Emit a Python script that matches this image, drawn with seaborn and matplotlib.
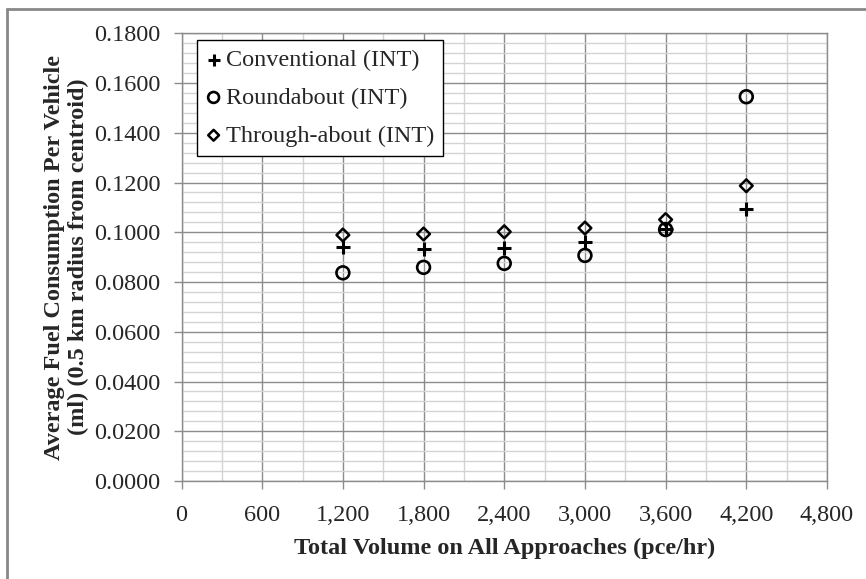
import seaborn as sns
import pandas as pd
import matplotlib.pyplot as plt
from matplotlib.lines import Line2D
from matplotlib.ticker import MultipleLocator, FuncFormatter

# total volume (pce/hr)
volume = [1200, 1800, 2400, 3000, 3600, 4200]
# average fuel consumption per vehicle (ml)
conventional = [0.0942, 0.0933, 0.0938, 0.0960, 0.1013, 0.1092]
roundabout = [0.0837, 0.0859, 0.0875, 0.0907, 0.1011, 0.1545]
throughabout = [0.0989, 0.0993, 0.1002, 0.1017, 0.1051, 0.1187]

df = pd.DataFrame({"volume": volume, "conv": conventional,
                   "round": roundabout, "thru": throughabout})

sns.set_style("white")
plt.rcParams['font.family'] = ['Liberation Serif', 'DejaVu Serif']

fig = plt.figure(figsize=(8.66, 5.79), dpi=100)
ax = fig.add_axes([181.5 / 866, 1 - 481 / 579, (827 - 181.5) / 866, (481 - 33.3) / 579])

sns.scatterplot(x="volume", y="conv", data=df, ax=ax, marker="+", color="black",
                s=90, linewidth=2.2, label="Conventional (INT)", zorder=3)
sns.scatterplot(x="volume", y="round", data=df, ax=ax, marker="o", color="black",
                facecolor="none", edgecolor="black", s=85, linewidth=1.9,
                label="Roundabout (INT)", zorder=3)
sns.scatterplot(x="volume", y="thru", data=df, ax=ax, marker="D", color="black",
                facecolor="none", edgecolor="black", s=42, linewidth=1.8,
                label="Through-about (INT)", zorder=3)

ax.set_xlim(0, 4800)
ax.set_ylim(0, 0.18)
ax.xaxis.set_major_locator(MultipleLocator(600))
ax.xaxis.set_minor_locator(MultipleLocator(300))
ax.yaxis.set_major_locator(MultipleLocator(0.02))
ax.yaxis.set_minor_locator(MultipleLocator(0.004))
ax.xaxis.set_major_formatter(FuncFormatter(lambda v, p: f"{int(v):,}"))
ax.yaxis.set_major_formatter(FuncFormatter(lambda v, p: f"{v:.4f}"))

ax.grid(which="major", color="#8c8c8c", linewidth=1.0, zorder=0)
ax.grid(which="minor", color="#d4d4d4", linewidth=1.0, zorder=0)
ax.set_axisbelow(True)
for sp in ax.spines.values():
    sp.set_color("#8c8c8c")
    sp.set_linewidth(1.0)

ax.tick_params(axis="both", which="major", direction="out", length=6, width=1,
               color="#8c8c8c", labelsize=17.5, left=True, bottom=True)
ax.tick_params(axis="both", which="minor", length=0)
ax.tick_params(axis="x", pad=11)
ax.tick_params(axis="y", pad=9)

ax.set_xlabel("Total Volume on All Approaches (pce/hr)", fontsize=17.5, fontweight="bold")
ax.xaxis.set_label_coords(0.5, -(548 - 481) / 447.7)
ax.xaxis.label.set_verticalalignment("center")

ax.set_ylabel("Average Fuel Consumption Per Vehicle\n(ml) (0.5 km radius from centroid)",
              fontsize=17.5, fontweight="bold", linespacing=1.15)
ax.yaxis.set_label_coords(-(181.5 - 66.5) / 645.5, 0.5)
ax.yaxis.label.set_verticalalignment("center")

leg = ax.legend(loc="upper left", bbox_to_anchor=((196.7 - 181.5) / 645.5, 1 - (40 - 33.3) / 447.7),
                borderaxespad=0, frameon=True, fancybox=False, framealpha=1,
                edgecolor="black", fontsize=17.5, markerscale=0.85,
                handlelength=0.65, handletextpad=0.18, labelspacing=0.65, borderpad=0.37)
leg.get_frame().set_linewidth(1.0)

# chart area border (top and left visible)
fig.add_artist(Line2D([7 / 866, 7 / 866], [0, 1 - 9 / 579], color="#888888", linewidth=2))
fig.add_artist(Line2D([7 / 866, 1], [1 - 9 / 579, 1 - 9 / 579], color="#888888", linewidth=2))

fig.savefig("out.png", dpi=100)
